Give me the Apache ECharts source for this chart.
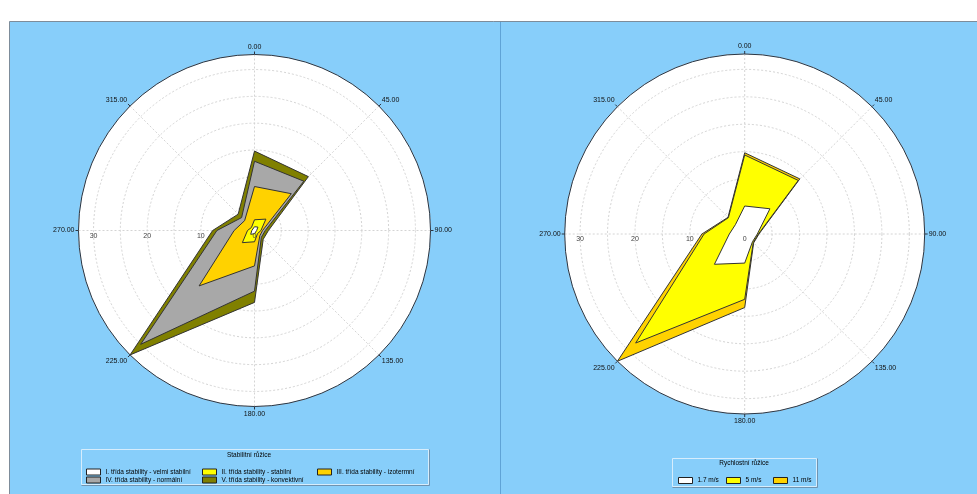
<!DOCTYPE html>
<html><head><meta charset="utf-8">
<script src="https://cdn.jsdelivr.net/npm/echarts@6/dist/echarts.min.js"></script>
<style>html,body{margin:0;padding:0;background:#fff}#c{width:977px;height:494px}</style>
</head><body><div id="c"></div>
<script>
// ---- data (compass directions, cumulative radii as drawn) ----
const directions = [0, 45, 90, 135, 180, 225, 270, 315];
const angleTickLabels = ['0.00', '45.00', '90.00', '135.00', '180.00', '225.00', '270.00', '315.00'];
const radiusTickLabels = [0, 10, 20, 30];
const radiusMax = 32.8;

const stabilityNames = [
  'I. třída stability - velmi stabilní',
  'II. třída stability - stabilní',
  'III. třída stability - izotermní',
  'IV. třída stability - normální',
  'V. třída stability - konvektivní'
];
const stabI   = [0.7, 0.9, 0.4, 0.3, 0.6, 1.0, 0.5, 0.3];
const stabII  = [2.0, 3.0, 1.2, 0.8, 2.1, 3.2, 1.3, 0.8];
const stabIII = [8.2, 9.7, 1.5, 1.4, 6.6, 14.6, 3.8, 2.6];
const stabIV  = [12.9, 13.0, 2.0, 1.8, 11.3, 30.0, 7.0, 3.4];
const stabV   = [14.8, 14.2, 2.6, 2.3, 13.4, 32.8, 7.8, 4.3];

const speedNames = ['1.7 m/s', '5 m/s', '11 m/s'];
const speed17 = [5.1, 6.5, 2.3, 2.0, 5.3, 7.8, 2.8, 2.4];
const speed5  = [14.4, 13.8, 2.5, 2.2, 11.9, 28.1, 7.4, 4.2];
const speed11 = [14.8, 14.2, 2.6, 2.3, 13.4, 32.8, 7.8, 4.3];

// ---- styling ----
const stabColors = ['#ffffff', '#ffff00', '#ffd200', '#a8a8a8', '#808000'];
const speedColors = ['#ffffff', '#ffff00', '#ffd200'];
const FONT = 'Liberation Sans';
const polarLayout = [
  { center: [254.5, 230.5], radius: 176 },
  { center: [744.7, 234], radius: 180 }
];

// compass angle -> angle-axis value (axis starts at the left, runs clockwise)
const toAxis = c => (c + 90) % 360;
const fromAxis = v => (v + 270) % 360;

function toPoints(vals) {
  const pts = vals.map((r, i) => [r, toAxis(directions[i])]);
  pts.push([vals[0], toAxis(directions[0]) === 0 ? 360 : toAxis(directions[0])]);
  return pts;
}

const polar = [];
const angleAxis = [];
const radiusAxis = [];
for (let k = 0; k < 4; k++) {
  const L = polarLayout[k % 2];
  polar.push({ center: L.center, radius: L.radius });
  const overlay = k >= 2;
  angleAxis.push({
    polarIndex: k, type: 'value', min: 0, max: 360, interval: 45,
    startAngle: 180, clockwise: true, show: !overlay,
    axisLine: { lineStyle: { color: '#2a3644', width: 1 } },
    axisTick: { show: true, length: 3, lineStyle: { color: '#2a3644' } },
    axisLabel: {
      margin: 4, fontSize: 7, fontFamily: FONT, color: '#111',
      formatter: v => {
        if (v >= 360) return '';
        const c = fromAxis(v);
        const i = directions.indexOf(c);
        return i >= 0 ? angleTickLabels[i] : '';
      }
    },
    splitLine: { show: true, lineStyle: { color: '#d4d4d4', type: [2, 2], width: 1 } }
  });
  radiusAxis.push({
    polarIndex: k, type: 'value', min: 0, max: radiusMax, interval: 5,
    z: overlay ? 20 : 0,
    axisLine: { show: false }, axisTick: { show: false },
    axisLabel: overlay ? {
      show: true, fontSize: 7, fontFamily: FONT, color: '#444', margin: 2,
      showMaxLabel: false,
      formatter: v => radiusTickLabels.indexOf(v) >= 0 ? String(v) : ''
    } : { show: false },
    splitLine: { show: !overlay, lineStyle: { color: '#d4d4d4', type: [2, 2], width: 1 } }
  });
}

function rose(name, vals, color, polarIndex, z) {
  return {
    name, type: 'line', coordinateSystem: 'polar', polarIndex,
    data: toPoints(vals), symbol: 'none', clip: false, silent: true, z,
    itemStyle: { color },
    lineStyle: { color: '#333', width: 1 },
    areaStyle: { color, opacity: 1 }
  };
}

const stabData = [stabI, stabII, stabIII, stabIV, stabV];
const speedData = [speed17, speed5, speed11];
const series = [];
for (let i = 4; i >= 0; i--) series.push(rose(stabilityNames[i], stabData[i], stabColors[i], 0, 2 + (4 - i)));
for (let i = 2; i >= 0; i--) series.push(rose(speedNames[i], speedData[i], speedColors[i], 1, 2 + (2 - i)));

const legendBase = {
  orient: 'vertical', itemGap: 1, itemWidth: 14, itemHeight: 6, icon: 'rect', padding: 0,
  selectedMode: false,
  itemStyle: { borderColor: '#222', borderWidth: 1 },
  textStyle: { fontSize: 6.5, fontFamily: FONT, color: '#000', lineHeight: 7 }
};
const legend = [
  Object.assign({}, legendBase, { data: [stabilityNames[0], stabilityNames[3]], left: 86, top: 468.5 }),
  Object.assign({}, legendBase, { data: [stabilityNames[1], stabilityNames[4]], left: 202, top: 468.5 }),
  Object.assign({}, legendBase, { data: [stabilityNames[2]], left: 317, top: 468.5 }),
  Object.assign({}, legendBase, { data: [speedNames[0]], left: 678, top: 477 }),
  Object.assign({}, legendBase, { data: [speedNames[1]], left: 726, top: 477 }),
  Object.assign({}, legendBase, { data: [speedNames[2]], left: 773, top: 477 })
];

function box(x, y, w, h) {
  return [
    { type: 'rect', z: -5, shape: { x, y, width: w, height: h }, style: { fill: '#87cefa', stroke: '#d6edfc', lineWidth: 1 } },
    { type: 'polyline', z: -4, shape: { points: [[x + w + 1, y], [x + w + 1, y + h + 1], [x, y + h + 1]] }, style: { stroke: '#6f93b0', lineWidth: 1, fill: null } }
  ];
}

const graphic = [
  { type: 'rect', z: -20, shape: { x: 9.5, y: 21.5, width: 970, height: 480 }, style: { fill: '#87cefa', stroke: '#7d8c9a', lineWidth: 1 } },
  { type: 'line', z: -19, shape: { x1: 500.5, y1: 22, x2: 500.5, y2: 494 }, style: { stroke: '#5fa3d6', lineWidth: 1 } },
  { type: 'circle', z: -15, shape: { cx: polarLayout[0].center[0], cy: polarLayout[0].center[1], r: polarLayout[0].radius }, style: { fill: '#ffffff' } },
  { type: 'circle', z: -15, shape: { cx: polarLayout[1].center[0], cy: polarLayout[1].center[1], r: polarLayout[1].radius }, style: { fill: '#ffffff' } },
  ...box(81.5, 449.5, 347, 35),
  ...box(672.5, 458.5, 144, 28),
  { type: 'text', z: -3, x: 249, y: 455, style: { text: 'Stabilitní růžice', fontSize: 6.5, fontFamily: FONT, fill: '#000', align: 'center', verticalAlign: 'middle' } },
  { type: 'text', z: -3, x: 744, y: 463.5, style: { text: 'Rychlostní růžice', fontSize: 6.5, fontFamily: FONT, fill: '#000', align: 'center', verticalAlign: 'middle' } }
];

const chart = echarts.init(document.getElementById('c'), null, { renderer: 'canvas' });
chart.setOption({
  animation: false,
  backgroundColor: '#ffffff',
  polar, angleAxis, radiusAxis, series, legend, graphic
});
</script>
</body></html>
